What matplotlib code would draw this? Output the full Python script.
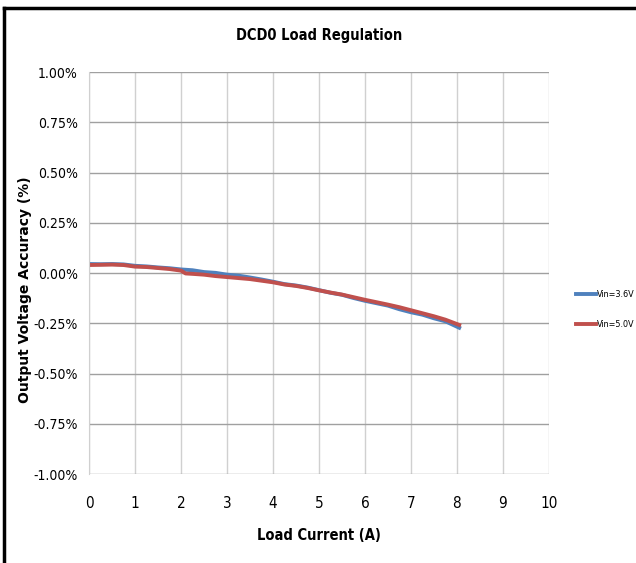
import matplotlib
matplotlib.use("Agg")
import matplotlib.pyplot as plt
from matplotlib.ticker import FuncFormatter
from matplotlib.lines import Line2D

plt.rcParams['font.family'] = ['DejaVu Sans']
plt.rcParams['font.stretch'] = 'condensed'

# load current (A) and output accuracy (%)
i_36 = [0, 0.25, 0.5, 0.75, 1.0, 1.25, 1.5, 1.75, 2.0, 2.25, 2.5, 2.75, 3.0, 3.25,
        3.5, 3.75, 4.0, 4.25, 4.5, 4.75, 5.0, 5.25, 5.5, 5.75, 6.0, 6.25, 6.5,
        6.75, 7.0, 7.25, 7.5, 7.75, 8.05]
acc_36 = [0.045, 0.044, 0.045, 0.043, 0.036, 0.033, 0.028, 0.024, 0.018, 0.014,
          0.005, 0.001, -0.008, -0.013, -0.022, -0.032, -0.043, -0.055, -0.062,
          -0.072, -0.085, -0.098, -0.108, -0.124, -0.138, -0.150, -0.162, -0.180,
          -0.195, -0.207, -0.225, -0.240, -0.272]

i_50 = [0, 0.25, 0.5, 0.75, 1.0, 1.25, 1.5, 1.75, 2.0, 2.1, 2.25, 2.5, 2.75, 3.0,
        3.25, 3.5, 3.75, 4.0, 4.25, 4.5, 4.75, 5.0, 5.25, 5.5, 5.75, 6.0, 6.25,
        6.5, 6.75, 7.0, 7.25, 7.5, 7.75, 8.05]
acc_50 = [0.040, 0.041, 0.042, 0.040, 0.032, 0.030, 0.025, 0.020, 0.012, -0.002,
          -0.004, -0.008, -0.015, -0.020, -0.025, -0.030, -0.038, -0.046, -0.057,
          -0.064, -0.074, -0.086, -0.097, -0.107, -0.120, -0.133, -0.145, -0.157,
          -0.170, -0.185, -0.200, -0.215, -0.232, -0.258]

xticks = list(range(0, 11))
yticks = [1.0, 0.75, 0.5, 0.25, 0.0, -0.25, -0.5, -0.75, -1.0]

fig = plt.figure(figsize=(6.36, 5.63), dpi=100)
ax = fig.add_axes([0.140, 0.158, 0.723, 0.714])

ax.plot(i_36, acc_36, color='#4F81BD', lw=2.8, label='Vin=3.6V')
ax.plot(i_50, acc_50, color='#C0504D', lw=2.8, label='Vin=5.0V')

ax.set_xlim(0, 10)
ax.set_ylim(-1.0, 1.0)
ax.set_xticks(xticks)
ax.set_yticks(yticks)
ax.yaxis.set_major_formatter(FuncFormatter(lambda v, p: f'{v:.2f}%'))
ax.tick_params(length=0, labelsize=10, colors='black')
ax.tick_params(axis='x', labelsize=11, pad=16)
ax.tick_params(axis='y', pad=8)

ax.grid(axis='y', color='#A0A0A0', lw=1.0)
ax.grid(axis='x', color='#D0D0D0', lw=1.0)
ax.set_axisbelow(True)
for s in ['top', 'right', 'bottom']:
    ax.spines[s].set_visible(False)
ax.spines['left'].set_color('#D0D0D0')

ax.set_title('DCD0 Load Regulation', fontsize=10.5, fontweight='bold', pad=23)
ax.set_xlabel('Load Current (A)', fontsize=10.5, fontweight='bold', labelpad=12)
ax.set_ylabel('Output Voltage Accuracy (%)', fontsize=10, fontweight='bold',
              fontstretch='normal')
ax.yaxis.set_label_coords(-0.124, 0.458)

leg = fig.legend(loc='center left', bbox_to_anchor=(0.899, 0.45), frameon=False,
                 fontsize=6.5, borderpad=0, handlelength=2.2, handletextpad=0.1,
                 labelspacing=2.3)

# outer frame (top and left edges)
fig.add_artist(Line2D([0.006, 1.0], [0.986, 0.986], color='black', lw=2.5,
                      transform=fig.transFigure))
fig.add_artist(Line2D([0.006, 0.006], [0.0, 0.986], color='black', lw=2.5,
                      transform=fig.transFigure))

fig.savefig('out.png', dpi=100)
